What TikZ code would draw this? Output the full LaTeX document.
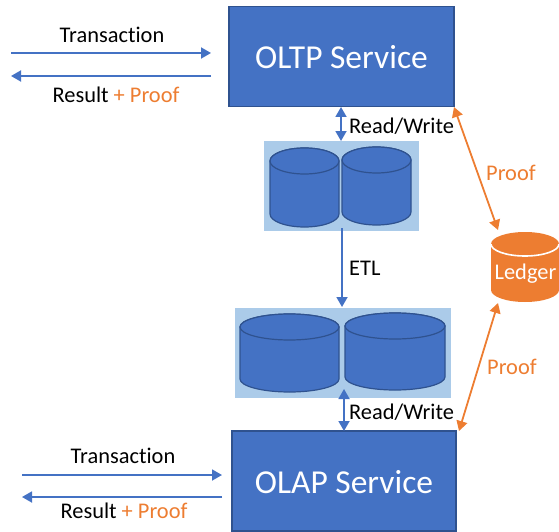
\documentclass[tikz,border=0pt]{standalone}
\usepackage{fontspec}
\setmainfont[Ligatures=NoCommon]{Carlito}
\usetikzlibrary{arrows.meta}
\definecolor{blueA}{HTML}{4472C4}
\definecolor{blueD}{HTML}{2F528F}
\definecolor{panelC}{HTML}{ABCBE9}
\definecolor{orangeA}{HTML}{ED7D31}
\tikzset{
  svcbox/.style={draw=blueD,line width=1.2pt,fill=blueA,text=white,font=\fontsize{33.5}{38}\selectfont,inner sep=0pt,minimum width=#1,minimum height=100pt},
  svctext/.style={text=white,font=\fontsize{33.5}{38}\selectfont,inner sep=0pt},
  panelbox/.style={fill=panelC,inner sep=0pt},
  lbl/.style={font=\fontsize{22.4}{26}\selectfont,inner sep=0pt,text=black},
  plbl/.style={lbl,text=orangeA},
  flow/.style={blueA,line width=1.8pt,-{Triangle[length=10pt,width=11pt]}},
  flowb/.style={blueA,line width=1.8pt,{Triangle[length=10pt,width=11pt]}-{Triangle[length=10pt,width=11pt]}},
  proofl/.style={orangeA,line width=1.8pt,{Triangle[length=10pt,width=11pt]}-{Triangle[length=10pt,width=11pt]}},
  dbshape/.style={fill=blueA,draw=blueD,line width=1.2pt}
}
\newcommand{\dbcyl}[5]{% left, right, top, bottom, ry
  \draw[dbshape] (#1,#3+#5) -- (#1,#4-#5)
    arc[start angle=180,end angle=360,x radius={(#2-#1)/2},y radius=-#5]
    -- (#2,#3+#5)
    arc[start angle=0,end angle=180,x radius={(#2-#1)/2},y radius=-#5] -- cycle;
  \draw[dbshape] (#1,#3+#5)
    arc[start angle=180,end angle=360,x radius={(#2-#1)/2},y radius=-#5]
    arc[start angle=0,end angle=180,x radius={(#2-#1)/2},y radius=-#5] -- cycle;
}
\begin{document}
\begin{tikzpicture}[x=1pt,y=-1pt]
\useasboundingbox (0,0) rectangle (559,532);
% panels
\node[panelbox,minimum width=155pt,minimum height=90pt] (p1) at (341.5,186) {};
\node[panelbox,minimum width=216pt,minimum height=90pt] (p2) at (343,353) {};
% cylinders
\dbcyl{270}{339}{148}{227}{13}
\dbcyl{342}{411}{147}{225}{13}
\dbcyl{240}{339}{314}{392}{13}
\dbcyl{345}{445}{313}{390}{13}
% services
\node[svcbox=225pt] (oltp) at (341.5,56.5) {};
\node[svctext] (oltpt) at (341.5,57.5) {OLTP Service};
\node[svcbox=224pt] (olap) at (344,481) {};
\node[svctext] (olapt) at (344,482.5) {OLAP Service};
% ledger
\fill[orangeA] (491,244) -- (491,290)
  arc[start angle=180,end angle=360,x radius=34,y radius=-12]
  -- (559,244)
  arc[start angle=0,end angle=180,x radius=34,y radius=-12] -- cycle;
\draw[white,line width=1.6pt] (491,244) arc[start angle=180,end angle=360,x radius=34,y radius=-12];
\node[font=\fontsize{22.4}{26}\selectfont,text=white,inner sep=0pt] (ledger) at (525.5,274) {Ledger};
% free ends
\coordinate (t1a) at (11,53); \coordinate (t1b) at (211,53);
\coordinate (r1a) at (211,76); \coordinate (r1b) at (11,76);
\coordinate (t2a) at (22,475); \coordinate (t2b) at (222,475);
\coordinate (r2a) at (222,497); \coordinate (r2b) at (22,497);
\coordinate (rw1a) at (341,107); \coordinate (rw1b) at (341,141);
\coordinate (etla) at (342,228); \coordinate (etlb) at (342,307);
\coordinate (rw2a) at (344,389); \coordinate (rw2b) at (344,431);
\coordinate (pf1a) at (454,107); \coordinate (pf1b) at (498,230);
\coordinate (pf2a) at (498,303); \coordinate (pf2b) at (459,431);
% connectors
\draw[flow] (t1a) -- (t1b);
\draw[flow] (r1a) -- (r1b);
\draw[flow] (t2a) -- (t2b);
\draw[flow] (r2a) -- (r2b);
\draw[flowb] (rw1a) -- (rw1b);
\draw[flow] (etla) -- (etlb);
\draw[flowb] (rw2a) -- (rw2b);
\draw[proofl] (pf1a) -- (pf1b);
\draw[proofl] (pf2a) -- (pf2b);
% labels
\node[lbl] (l1) at (112,35) {Transaction};
\node[lbl] (l2) at (116,95) {Result \textcolor{orangeA}{+ Proof}};
\node[lbl,anchor=west] (l3) at (349,126) {Read/Write};
\node[lbl,anchor=west] (l4) at (349,268) {ETL};
\node[lbl,anchor=west] (l5) at (349,412) {Read/Write};
\node[plbl,anchor=west] (l6) at (486,173) {Proof};
\node[plbl,anchor=west] (l7) at (487,367) {Proof};
\node[lbl] (l8) at (123,456) {Transaction};
\node[lbl] (l9) at (124,511) {Result \textcolor{orangeA}{+ Proof}};
\end{tikzpicture}
\end{document}
